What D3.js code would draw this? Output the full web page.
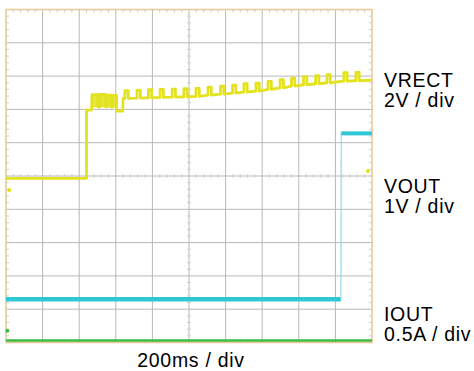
<!DOCTYPE html>
<html><head><meta charset="utf-8">
<script src="https://cdn.jsdelivr.net/npm/d3@7/dist/d3.min.js"></script>
<style>html,body{margin:0;padding:0;background:#fff;} svg{display:block}</style>
</head><body><svg id="c" width="474" height="371"></svg>
<script>
// ---- data (time and level in divisions) ----
const gridDivs = [0,1,2,3,4,5,6,7,8,9,10];
const vrectStart = [[0.00,4.93],[2.20,4.93],[2.20,6.98],[2.34,6.98],[2.35,7.44],[2.51,7.44],[2.51,7.08],[2.57,7.08],[2.57,7.45],[2.72,7.45],[2.72,7.08],[2.76,7.08],[2.76,7.43],[2.87,7.43],[2.87,7.07],[2.91,7.07],[2.91,7.42],[3.02,7.42],[3.02,6.95],[3.19,6.95],[3.20,7.33]];
const burstT0 = [2.35,2.57,2.76,2.91];
const burstT1 = [2.51,2.72,2.87,3.02];
const burstLo = [7.06,7.07,7.06,7.05];
const burstHi = [7.44,7.45,7.43,7.42];
const pulseT    = [3.25,3.58,3.89,4.21,4.54,4.86,5.19,5.52,5.86,6.19,6.50,6.83,7.16,7.49,7.80,8.13,8.46,8.77,9.23,9.56];
const pulseBase = [7.33,7.34,7.35,7.36,7.37,7.38,7.39,7.43,7.46,7.49,7.52,7.55,7.60,7.65,7.70,7.74,7.77,7.80,7.85,7.86];
const pulseTop  = [7.56,7.58,7.59,7.60,7.61,7.62,7.63,7.67,7.70,7.73,7.77,7.79,7.84,7.89,7.94,7.98,8.01,8.04,8.10,8.11];
const pulseWidth = 0.09;
const vrectEnd = [[10.00,7.88]];
const voutPoints = [[0.00,1.30],[9.15,1.30],[9.16,6.28],[10.00,6.28]];
const ioutPoints = [[0.00,0.06],[10.00,0.06]];
const markerT = [0.06, 9.86, 0.01];
const markerV = [4.58, 5.15, 0.35];
const markerColor = ["#e3e21e","#e3e21e","#3dbb3d"];
const chanNames  = ["VRECT","VOUT","IOUT"];
const chanScales = ["2V / div","1V / div","0.5A / div"];
const timeLabel = "200ms / div";

// ---- drawing ----
const svg = d3.select("#c");
const x = d3.scaleLinear().domain([0,10]).range([6,372]);
const y = d3.scaleLinear().domain([0,10]).range([342.5,9.5]);

const grid = svg.append("g");
grid.selectAll(".v").data(gridDivs.slice(1,-1)).enter().append("line")
  .attr("x1",d=>x(d)).attr("x2",d=>x(d)).attr("y1",y(10)).attr("y2",y(0))
  .attr("stroke","#b8b8b8").attr("stroke-width",1);
grid.selectAll(".h").data(gridDivs.slice(1,-1)).enter().append("line")
  .attr("y1",d=>y(d)).attr("y2",d=>y(d)).attr("x1",x(0)).attr("x2",x(10))
  .attr("stroke","#b8b8b8").attr("stroke-width",1);

// minor ticks
const minor = d3.range(0, 50).map(i=>i/5).filter(d=>d%1!==0);
const tk = svg.append("g").attr("stroke","#cfcfcf").attr("stroke-width",1);
minor.forEach(d=>{
  tk.append("line").attr("x1",x(d)).attr("x2",x(d)).attr("y1",y(10)).attr("y2",y(10)+3);
  tk.append("line").attr("x1",x(d)).attr("x2",x(d)).attr("y1",y(0)).attr("y2",y(0)-3);
  tk.append("line").attr("x1",x(d)).attr("x2",x(d)).attr("y1",y(5)-2).attr("y2",y(5)+2);
  tk.append("line").attr("y1",y(d)).attr("y2",y(d)).attr("x1",x(0)).attr("x2",x(0)+3);
  tk.append("line").attr("y1",y(d)).attr("y2",y(d)).attr("x1",x(10)).attr("x2",x(10)-3);
  tk.append("line").attr("y1",y(d)).attr("y2",y(d)).attr("x1",x(5)-2).attr("x2",x(5)+2);
});

// border
svg.append("rect").attr("x",x(0)).attr("y",y(10)).attr("width",x(10)-x(0)).attr("height",y(0)-y(10))
  .attr("fill","none").attr("stroke","#e6c894").attr("stroke-width",1.5);

const line = d3.line().x(d=>x(d[0])).y(d=>y(d[1]));

// IOUT
svg.append("path").attr("d",line(ioutPoints)).attr("fill","none")
  .attr("stroke","#3dbb3d").attr("stroke-width",2.5);

// VOUT
svg.append("path").attr("d",line(voutPoints.slice(0,2))).attr("fill","none")
  .attr("stroke","#2fc6d6").attr("stroke-width",4.5);
svg.append("path").attr("d",line(voutPoints.slice(1,3))).attr("fill","none")
  .attr("stroke","#8fdde6").attr("stroke-width",1.2);
svg.append("path").attr("d",line(voutPoints.slice(2))).attr("fill","none")
  .attr("stroke","#2fc6d6").attr("stroke-width",4);

// VRECT
const vr = vrectStart.slice();
pulseT.forEach((t,i)=>{
  vr.push([t,pulseBase[i]],[t,pulseTop[i]],[t+pulseWidth,pulseTop[i]],[t+pulseWidth,pulseBase[i]]);
});
vrectEnd.forEach(p=>vr.push(p));
svg.selectAll(".burst").data(burstT0).enter().append("rect")
  .attr("x",(d,i)=>x(d)).attr("width",(d,i)=>x(burstT1[i])-x(d))
  .attr("y",(d,i)=>y(burstHi[i])).attr("height",(d,i)=>y(burstLo[i])-y(burstHi[i]))
  .attr("fill","#e3e21e").attr("opacity",0.85);
svg.append("path").attr("d",line(vr)).attr("fill","none")
  .attr("stroke","#e3e21e").attr("stroke-width",2.8).attr("stroke-linejoin","round");

// markers
markerT.forEach((t,i)=>{
  svg.append("circle").attr("cx",x(t)+1).attr("cy",y(markerV[i])).attr("r",2).attr("fill",markerColor[i]);
});

// labels
const font = "'Liberation Sans', Arial, sans-serif";
const lab = svg.append("g").attr("font-family",font).attr("font-size",19.5)
  .attr("letter-spacing","0.7px").attr("fill","#000");
const baseY = [86.7,193,320.7];
chanNames.forEach((n,i)=>{
  lab.append("text").attr("x",384).attr("y",baseY[i]).text(n);
  lab.append("text").attr("x",384).attr("y",baseY[i]+20).text(chanScales[i]);
});
lab.append("text").attr("x",191).attr("y",366.5).attr("text-anchor","middle").text(timeLabel);
</script></body></html>
